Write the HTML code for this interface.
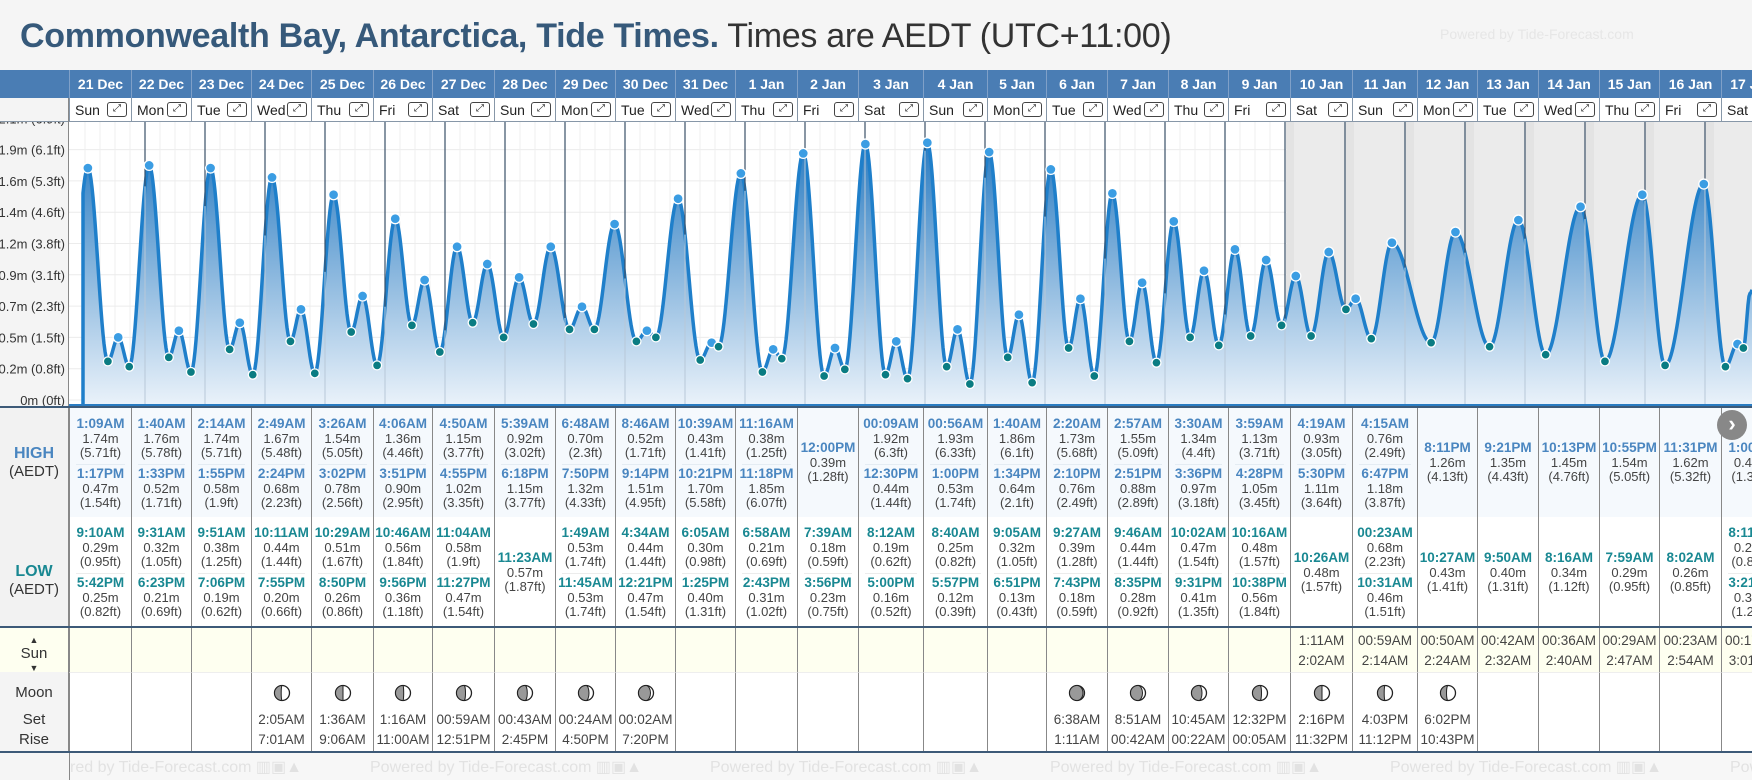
<!DOCTYPE html>
<html><head><meta charset="utf-8">
<style>
*{box-sizing:border-box}
body{margin:0;width:1752px;height:780px;overflow:hidden;background:#f5f5f5;font-family:"Liberation Sans",Arial,sans-serif;position:relative}
.abs{position:absolute}
#title{left:20px;top:14px;font-size:34px;line-height:44px;white-space:nowrap;color:#333;letter-spacing:-0.3px}
#title b{color:#36597a}
#powered{left:1440px;top:26px;font-size:14px;color:#e6e6e6}
.hdr{top:70px;height:28px;background:#4a7db4;color:#fff;font-weight:bold;font-size:14px;text-align:center;line-height:28px;border-left:1px solid #7fa0c8}
.dow{top:98px;height:24px;background:#fff;border-left:1px solid #8797a8;border-bottom:1px solid #8797a8;font-size:14px;line-height:24px;color:#222}
.dow span.d{position:absolute;left:5px}
.dow span.e{position:absolute;right:4px;top:4px;width:20px;height:15px;border:1px solid #444;border-radius:3px;font-size:10px;line-height:12px;text-align:center;background:#fff}
.cell{border-left:1px solid #888;text-align:center;color:#444;font-size:13px;line-height:14.5px}
.t{font-weight:bold;font-size:13.5px}
.th{color:#4a86c0}.tl{color:#198892}
.lab{left:0;width:69px;text-align:center;color:#333;font-size:15px}
</style></head><body>
<div id="title" class="abs"><b>Commonwealth Bay, Antarctica, Tide Times.</b> Times are AEDT (UTC+11:00)</div>
<div id="powered" class="abs">Powered by Tide-Forecast.com</div>
<div class="abs" style="left:0;top:70px;width:69px;height:28px;background:#4a7db4"></div>
<div class="abs" style="left:0;top:98px;width:69px;height:308px;background:#f4f4f4;border-right:1px solid #888"></div>
<svg id="chart" class="abs" style="left:0;top:0" width="1752" height="780"></svg>
<div id="cols"></div>
<div class="abs" style="left:0;top:98px;width:68px;height:24px;background:#f4f4f4;border-bottom:1px solid #8797a8"></div>
<div class="abs" style="left:0;top:406px;width:1752px;height:2px;background:#3d5a78"></div>
<div class="abs lab" style="top:408px;height:109px;background:#f2f2f2;border-right:1px solid #888"><div style="margin-top:37px;color:#4a86c0;font-weight:bold;font-size:16px">HIGH</div><div>(AEDT)</div></div>
<div class="abs lab" style="top:517px;height:109px;background:#f2f2f2;border-right:1px solid #888"><div style="margin-top:46px;color:#198892;font-weight:bold;font-size:16px">LOW</div><div>(AEDT)</div></div>
<div class="abs" style="left:0;top:626px;width:1752px;height:2px;background:#3d5a78"></div>
<div class="abs lab" style="top:628px;height:44px;background:#fefff0;border-right:1px solid #888;font-size:14px;line-height:12px"><div style="margin-top:6px;font-size:9px">▲</div><div style="font-size:15px;line-height:16px">Sun</div><div style="font-size:9px">▼</div></div>
<div class="abs lab" style="top:672px;height:79px;background:#f4f4f4;border-right:1px solid #888;font-size:15px"><div style="margin-top:12px">Moon</div><div style="margin-top:10px">Set</div><div style="margin-top:3px">Rise</div></div>
<div class="abs" style="left:0;top:751px;width:1752px;height:2px;background:#3d5a78"></div>
<div id="footer" class="abs" style="left:69px;top:753px;width:1683px;height:27px;background:#f7f7f7;overflow:hidden;border-left:1px solid #888"></div>
<div class="abs" style="left:1717px;top:410px;width:30px;height:30px;border-radius:50%;background:#888;color:#fff;font-size:22px;line-height:28px;text-align:center;font-weight:bold">›</div>
<script>
const days=['21 Dec','22 Dec','23 Dec','24 Dec','25 Dec','26 Dec','27 Dec','28 Dec','29 Dec','30 Dec','31 Dec','1 Jan','2 Jan','3 Jan','4 Jan','5 Jan','6 Jan','7 Jan','8 Jan','9 Jan','10 Jan','11 Jan','12 Jan','13 Jan','14 Jan','15 Jan','16 Jan','17 Jan'];
const dows=['Sun','Mon','Tue','Wed','Thu','Fri','Sat','Sun','Mon','Tue','Wed','Thu','Fri','Sat','Sun','Mon','Tue','Wed','Thu','Fri','Sat','Sun','Mon','Tue','Wed','Thu','Fri','Sat'];
const highTimes=[['1:09AM','1:17PM'],['1:40AM','1:33PM'],['2:14AM','1:55PM'],['2:49AM','2:24PM'],['3:26AM','3:02PM'],['4:06AM','3:51PM'],['4:50AM','4:55PM'],['5:39AM','6:18PM'],['6:48AM','7:50PM'],['8:46AM','9:14PM'],['10:39AM','10:21PM'],['11:16AM','11:18PM'],['12:00PM'],['00:09AM','12:30PM'],['00:56AM','1:00PM'],['1:40AM','1:34PM'],['2:20AM','2:10PM'],['2:57AM','2:51PM'],['3:30AM','3:36PM'],['3:59AM','4:28PM'],['4:19AM','5:30PM'],['4:15AM','6:47PM'],['8:11PM'],['9:21PM'],['10:13PM'],['10:55PM'],['11:31PM'],['1:00PM']];
const highM=[[1.74,0.47],[1.76,0.52],[1.74,0.58],[1.67,0.68],[1.54,0.78],[1.36,0.90],[1.15,1.02],[0.92,1.15],[0.70,1.32],[0.52,1.51],[0.43,1.70],[0.38,1.85],[0.39],[1.92,0.44],[1.93,0.53],[1.86,0.64],[1.73,0.76],[1.55,0.88],[1.34,0.97],[1.13,1.05],[0.93,1.11],[0.76,1.18],[1.26],[1.35],[1.45],[1.54],[1.62],[0.42]];
const highFt=[['5.71','1.54'],['5.78','1.71'],['5.71','1.9'],['5.48','2.23'],['5.05','2.56'],['4.46','2.95'],['3.77','3.35'],['3.02','3.77'],['2.3','4.33'],['1.71','4.95'],['1.41','5.58'],['1.25','6.07'],['1.28'],['6.3','1.44'],['6.33','1.74'],['6.1','2.1'],['5.68','2.49'],['5.09','2.89'],['4.4','3.18'],['3.71','3.45'],['3.05','3.64'],['2.49','3.87'],['4.13'],['4.43'],['4.76'],['5.05'],['5.32'],['1.38']];
const lowTimes=[['9:10AM','5:42PM'],['9:31AM','6:23PM'],['9:51AM','7:06PM'],['10:11AM','7:55PM'],['10:29AM','8:50PM'],['10:46AM','9:56PM'],['11:04AM','11:27PM'],['11:23AM'],['1:49AM','11:45AM'],['4:34AM','12:21PM'],['6:05AM','1:25PM'],['6:58AM','2:43PM'],['7:39AM','3:56PM'],['8:12AM','5:00PM'],['8:40AM','5:57PM'],['9:05AM','6:51PM'],['9:27AM','7:43PM'],['9:46AM','8:35PM'],['10:02AM','9:31PM'],['10:16AM','10:38PM'],['10:26AM'],['00:23AM','10:31AM'],['10:27AM'],['9:50AM'],['8:16AM'],['7:59AM'],['8:02AM'],['8:11AM','3:21PM']];
const lowM=[[0.29,0.25],[0.32,0.21],[0.38,0.19],[0.44,0.20],[0.51,0.26],[0.56,0.36],[0.58,0.47],[0.57],[0.53,0.53],[0.44,0.47],[0.30,0.40],[0.21,0.31],[0.18,0.23],[0.19,0.16],[0.25,0.12],[0.32,0.13],[0.39,0.18],[0.44,0.28],[0.47,0.41],[0.48,0.56],[0.48],[0.68,0.46],[0.43],[0.40],[0.34],[0.29],[0.26],[0.25,0.39]];
const lowFt=[['0.95','0.82'],['1.05','0.69'],['1.25','0.62'],['1.44','0.66'],['1.67','0.86'],['1.84','1.18'],['1.9','1.54'],['1.87'],['1.74','1.74'],['1.44','1.54'],['0.98','1.31'],['0.69','1.02'],['0.59','0.75'],['0.62','0.52'],['0.82','0.39'],['1.05','0.43'],['1.28','0.59'],['1.44','0.92'],['1.54','1.35'],['1.57','1.84'],['1.57'],['2.23','1.51'],['1.41'],['1.31'],['1.12'],['0.95'],['0.85'],['0.82','1.28']];
const sunRise=['','','','','','','','','','','','','','','','','','','','','1:11AM','00:59AM','00:50AM','00:42AM','00:36AM','00:29AM','00:23AM','00:17AM'];
const sunSet=['','','','','','','','','','','','','','','','','','','','','2:02AM','2:14AM','2:24AM','2:32AM','2:40AM','2:47AM','2:54AM','3:01AM'];
const moonSet=['','','','2:05AM','1:36AM','1:16AM','00:59AM','00:43AM','00:24AM','00:02AM','','','','','','','6:38AM','8:51AM','10:45AM','12:32PM','2:16PM','4:03PM','6:02PM','','','','',''];
const moonRise=['','','','7:01AM','9:06AM','11:00AM','12:51PM','2:45PM','4:50PM','7:20PM','','','','','','','1:11AM','00:42AM','00:22AM','00:05AM','11:32PM','11:12PM','10:43PM','','','','',''];
const moonPhase=[0,0,0,0.55,0.5,0.45,0.4,0.35,0.3,0.2,0,0,0,0,0,0,0.1,0.2,0.3,0.4,0.5,0.55,0.6,0,0,0,0,0];
const edgeT=[-0.3,27.75,28.05];
const edgeM=[0.28,0.8,1.68];
const tickLabels=['0m (0ft)','0.2m (0.8ft)','0.5m (1.5ft)','0.7m (2.3ft)','0.9m (3.1ft)','1.2m (3.8ft)','1.4m (4.6ft)','1.6m (5.3ft)','1.9m (6.1ft)','2.1m (6.9ft)'];
const tickStep=0.2348;

const B=[69,131,191,251,311,373,432,494,555,615,675,735,797,858,923,987,1046,1107,1168,1228,1290,1352,1417,1477,1538,1599,1659,1721,1782];
const NS='http://www.w3.org/2000/svg';
const svg=document.getElementById('chart');
const xOf=t=>85+60*t;
const yOf=m=>400-133.3*m;
function hrs(s){const m=s.match(/(\d+):(\d+)(AM|PM)/);let h=+m[1]%12;if(m[3]=='PM')h+=12;return h+ +m[2]/60;}
function mk(tag,attrs,parent){const e=document.createElementNS(NS,tag);for(const k in attrs)e.setAttribute(k,attrs[k]);(parent||svg).appendChild(e);return e;}

const ext=[];
days.forEach((d,i)=>{
  highTimes[i].forEach((tm,j)=>ext.push({t:i+hrs(tm)/24,m:highM[i][j],hi:1}));
  lowTimes[i].forEach((tm,j)=>ext.push({t:i+hrs(tm)/24,m:lowM[i][j],hi:0}));
});
edgeT.forEach((t,i)=>ext.push({t:t,m:edgeM[i],hi:-1}));
ext.sort((a,b)=>a.t-b.t);
function hAt(t){for(let k=0;k<ext.length-1;k++){const a=ext[k],b=ext[k+1];if(t>=a.t&&t<=b.t){const s=(t-a.t)/(b.t-a.t);return a.m+(b.m-a.m)*(1-Math.cos(Math.PI*s))/2;}}return 0.3;}

const defs=mk('defs',{});
const g=mk('linearGradient',{id:'fill',x1:0,y1:0,x2:0,y2:1},defs);
mk('stop',{offset:'0','stop-color':'#2a7cc2'},g);mk('stop',{offset:'1','stop-color':'#eaf2fa'},g);
const cp=mk('clipPath',{id:'clip'},defs);mk('rect',{x:69,y:122,width:1683,height:283},cp);
let el=mk('rect',{x:69,y:122,width:1683,height:284,fill:'#fff'});


el=mk('rect',{x:1287,y:122,width:465,height:284,fill:'#ebebeb'});


for(let d=20;d<28;d++){el=mk('rect',{x:xOf(d)+1,y:122,width:8,height:284,fill:'#e3e3e3'});

}
for(let x=85;x<1287;x+=15){el=mk('line',{x1:x,x2:x,y1:122,y2:405,stroke:'#efefef'});

}
tickLabels.forEach((lb,i)=>{const y=yOf(i*tickStep);
 el=mk('line',{x1:69,x2:1287,y1:y,y2:y,stroke:'#ececec'});
 
 
 el=mk('text',{x:65,y:y+5,'text-anchor':'end','font-size':13,fill:'#333'});el.textContent=lb;
 
 
});
let pts=[];const x0=83;
for(let x=x0;x<=1752;x+=1){pts.push([x,yOf(hAt((x-85)/60))]);}
let line='M'+x0+',405 '+pts.map(p=>'L'+p[0]+','+p[1].toFixed(1)).join(' ');
el=mk('path',{d:line+' L1752,405 Z',fill:'url(#fill)','clip-path':'url(#clip)'});


el=mk('path',{d:line,fill:'none',stroke:'#1f7fca','stroke-width':3.5,'clip-path':'url(#clip)','stroke-linejoin':'round'});


for(let d=1;d<28;d++){const x=xOf(d);el=mk('line',{x1:x,x2:x,y1:122,y2:yOf(hAt(d)),stroke:'#3a5068','stroke-width':1.2});


el=mk('line',{x1:x,x2:x,y1:yOf(hAt(d)),y2:405,stroke:'#b8c8d8','stroke-width':1});

}
ext.forEach(e=>{if(e.hi<0)return;const x=xOf(e.t);if(x>1752)return;
 el=mk('circle',{cx:x,cy:yOf(e.m),r:e.hi?5:4.5,fill:e.hi?'#3b9de3':'#0a7c82',stroke:'#fff','stroke-width':1.3});
 
 
});
el=mk('line',{x1:69,x2:1752,y1:405,y2:405,stroke:'#2a7cc2','stroke-width':2});



const cols=document.getElementById('cols');
function div(cls,style,html,parent){const e=document.createElement('div');e.className='abs '+cls;e.style.cssText=style;e.innerHTML=html;(parent||cols).appendChild(e);return e;}
function block(ts,ms,fs,cls){return '<div class="t '+cls+'">'+ts+'</div><div>'+ms.toFixed(2)+'m</div><div>('+fs+'ft)</div>';}
function moonSvg(p){return '<svg width="18" height="18" viewBox="0 0 18 18"><circle cx="9" cy="9" r="7.5" fill="#fff" stroke="#222" stroke-width="1.3"/><path d="M9 1.5 A7.5 7.5 0 0 0 9 16.5 A'+(7.5*Math.abs(1-2*p)).toFixed(1)+' 7.5 0 0 '+(p>0.5?1:0)+' 9 1.5Z" fill="#999" stroke="#222" stroke-width="1"/></svg>';}
days.forEach((d,i)=>{
 const L=B[i],W=B[i+1]-B[i];
 let e=div('hdr','left:'+L+'px;width:'+W+'px',d);
 
 
 e=div('dow','left:'+L+'px;width:'+W+'px','<span class="d">'+dows[i]+'</span><span class="e">⤢</span>');
 
 
 let h='';const n=highTimes[i].length;
 if(n==2)h='<div style="position:absolute;top:9px;width:100%">'+block(highTimes[i][0],highM[i][0],highFt[i][0],'th')+'</div><div style="position:absolute;left:6px;right:6px;top:56px;border-top:1px solid #e4ecf3"></div><div style="position:absolute;top:59px;width:100%">'+block(highTimes[i][1],highM[i][1],highFt[i][1],'th')+'</div>';
 else h='<div style="position:absolute;top:33px;width:100%">'+block(highTimes[i][0],highM[i][0],highFt[i][0],'th')+'</div>';
 e=div('cell','left:'+L+'px;width:'+W+'px;top:408px;height:109px;background:#f5f9fd',h);
 
 
 let l='';const m=lowTimes[i].length;
 if(m==2)l='<div style="position:absolute;top:9px;width:100%">'+block(lowTimes[i][0],lowM[i][0],lowFt[i][0],'tl')+'</div><div style="position:absolute;left:6px;right:6px;top:56px;border-top:1px solid #ececec"></div><div style="position:absolute;top:59px;width:100%">'+block(lowTimes[i][1],lowM[i][1],lowFt[i][1],'tl')+'</div>';
 else l='<div style="position:absolute;top:34px;width:100%">'+block(lowTimes[i][0],lowM[i][0],lowFt[i][0],'tl')+'</div>';
 e=div('cell','left:'+L+'px;width:'+W+'px;top:517px;height:109px;background:#fff',l);
 
 
 e=div('cell','left:'+L+'px;width:'+W+'px;top:628px;height:44px;background:#fefff0;font-size:13.5px;line-height:20px;padding-top:3px',sunRise[i]?sunRise[i]+'<br>'+sunSet[i]:'');
 
 
 let mh=moonSet[i]?'<div style="margin-top:11px;height:20px">'+moonSvg(moonPhase[i])+'</div><div style="margin-top:6px;line-height:20px;font-size:13.5px">'+moonSet[i]+'<br>'+moonRise[i]+'</div>':'';
 e=div('cell','left:'+L+'px;width:'+W+'px;top:672px;height:79px;background:#fff;border-top:1px solid #eee',mh);
 
 
});
const f=document.getElementById('footer');
for(let k=0;k<6;k++){const e=document.createElement('div');e.className='abs';e.style.cssText='left:'+(-40+340*k)+'px;top:4px;font-size:16px;color:#e2e2e2;white-space:nowrap';e.textContent='Powered by Tide-Forecast.com ▥▣▲';


f.appendChild(e);}
</script>
</body></html>
